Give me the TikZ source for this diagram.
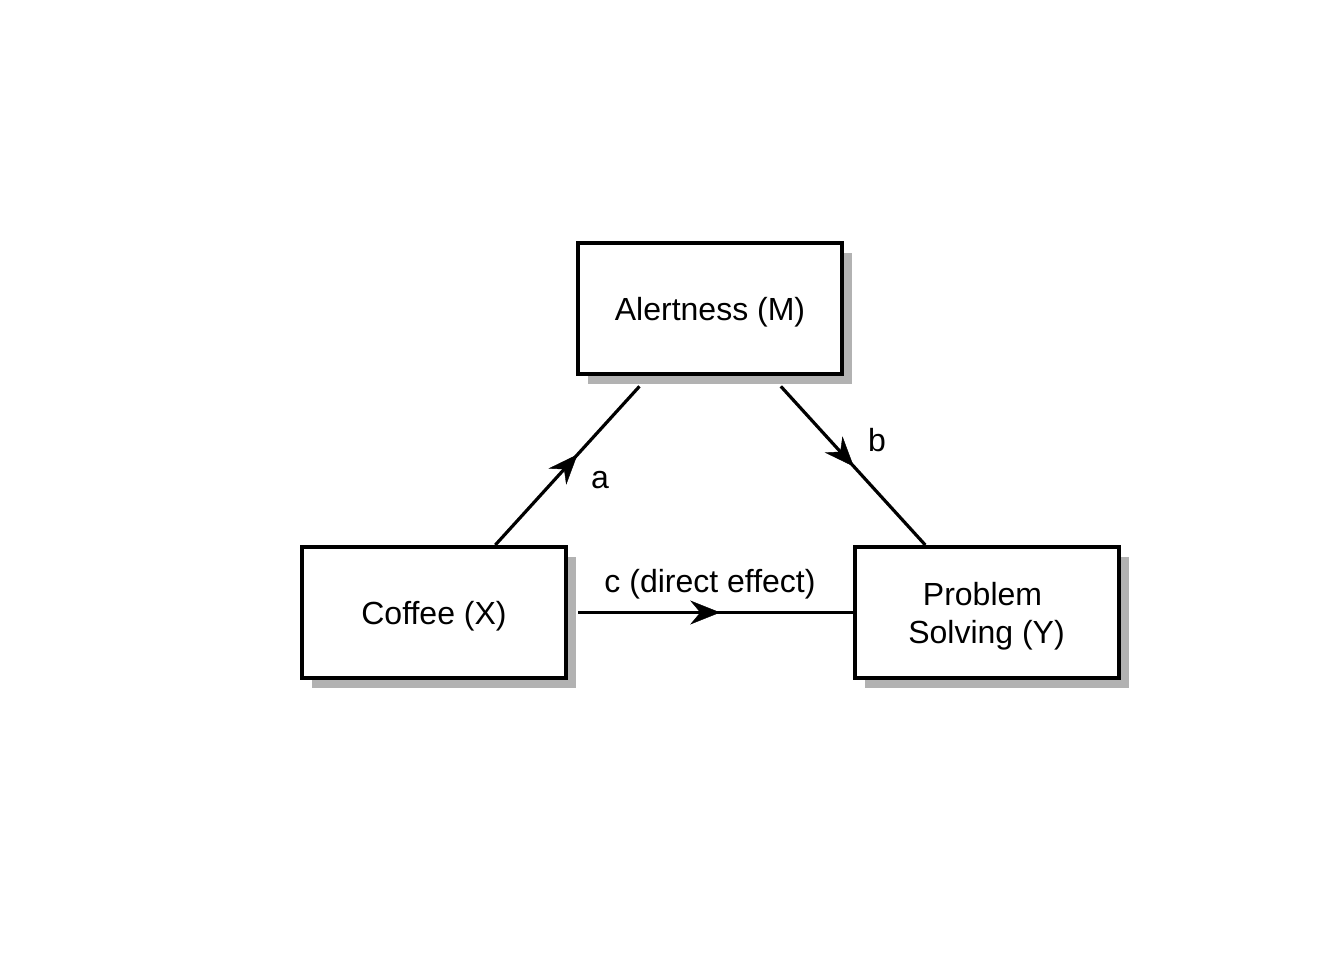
\documentclass[tikz,border=0pt]{standalone}
\usepackage{fontspec}
\setmainfont{Liberation Sans}
\usetikzlibrary{arrows.meta,shadows,decorations.markings}
\begin{document}
\begin{tikzpicture}[x=1pt,y=-1pt,
  box/.style={draw=black, line width=4pt, fill=white, minimum width=264pt, minimum height=131pt,
    align=center, text depth=0pt, font=\fontsize{32}{38}\selectfont,
    drop shadow={shadow xshift=10pt, shadow yshift=-10pt, fill=black!30, opacity=1}},
  conn/.style={line width=3.2pt},
  lbl/.style={font=\fontsize{32}{38}\selectfont, inner sep=0pt},
  midarrow/.style={decoration={markings, mark=at position #1 with {\arrow{Stealth[length=30pt,width=24pt,inset=10pt]}}}, decorate}
]
\useasboundingbox (0,0) rectangle (1344,960);
\node[box] (M) at (710,308.5) {Alertness (M)};
\node[box] (X) at (434,612.5) {Coffee (X)};
\node[box] (Y) at (986.5,612.5) {\hspace*{-8pt}Problem\\Solving (Y)};

\draw[conn, shorten >=14pt] (X) -- (M);
\draw[conn, shorten <=14pt] (M) -- (Y);
\draw[conn, shorten <=10pt] (X) -- (Y);

\path[midarrow=0.52] (X.center) -- (M.center);
\path[midarrow=0.52] (M.center) -- (Y.center);
\path[midarrow=0.518] (X.center) -- (Y.center);

\node[lbl] (la) at (600,480) {a};
\node[lbl] (lb) at (877,440) {b};
\node[lbl] (lc) at (710,584) {c (direct effect)};
\end{tikzpicture}
\end{document}
